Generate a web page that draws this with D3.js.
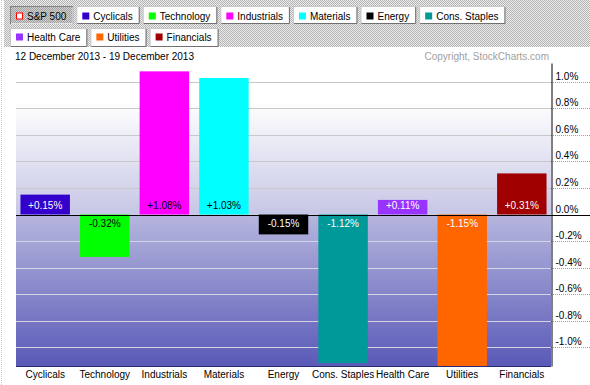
<!DOCTYPE html>
<html><head><meta charset="utf-8">
<script src="https://cdn.jsdelivr.net/npm/d3@7"></script>
<style>html,body{margin:0;padding:0;background:#fff;overflow:hidden}
text{font-family:"Liberation Sans",Arial,sans-serif;font-size:10px}</style>
</head><body><svg id="c" width="590" height="385"></svg>
<script>
// ---- data ----
const categories = ["Cyclicals","Technology","Industrials","Materials","Energy","Cons. Staples","Health Care","Utilities","Financials"];
const values = [0.15,-0.32,1.08,1.03,-0.15,-1.12,0.11,-1.15,0.31];
const valueLabels = ["+0.15%","-0.32%","+1.08%","+1.03%","-0.15%","-1.12%","+0.11%","-1.15%","+0.31%"];
const yTicks = [-1.0,-0.8,-0.6,-0.4,-0.2,0.0,0.2,0.4,0.6,0.8,1.0];
const yTickLabels = ["-1.0%","-0.8%","-0.6%","-0.4%","-0.2%","0.0%","0.2%","0.4%","0.6%","0.8%","1.0%"];
const legendRow1 = ["S&P 500","Cyclicals","Technology","Industrials","Materials","Energy","Cons. Staples"];
const legendRow2 = ["Health Care","Utilities","Financials"];
const dateText = "12 December 2013 - 19 December 2013";
const copyrightText = "Copyright, StockCharts.com";
// ---- styles ----
const seriesColors = ["#3300cc","#00ff00","#ff00ff","#00ffff","#000000","#009999","#9933ff","#ff6600","#a00000"];
const labelInk = ["#fff","#000","#000","#000","#fff","#fff","#fff","#fff","#fff"];
const benchmarkColor = "#ff0000";

const svg = d3.select("#c");
const defs = svg.append("defs");
function dither(id,a,b){
  const p = defs.append("pattern").attr("id",id).attr("width",2).attr("height",2).attr("patternUnits","userSpaceOnUse");
  p.append("rect").attr("width",2).attr("height",2).attr("fill",a);
  p.append("rect").attr("width",1).attr("height",1).attr("fill",b);
  p.append("rect").attr("x",1).attr("y",1).attr("width",1).attr("height",1).attr("fill",b);
}
dither("hdr","#ececec","#b4b4b4");
dither("sel","#d0d0d0","#a0a0a0");

const L=16, R=551, T=63, B=366;
const y = d3.scaleLinear().domain([-1.143,1.143]).range([B,T]);
const x = d3.scaleBand().domain(categories).range([L,R]).paddingInner(0.17).paddingOuter(0.075);

// backgrounds
const gUp = defs.append("linearGradient").attr("id","gup").attr("x1",0).attr("x2",0).attr("y1",0).attr("y2",1);
gUp.append("stop").attr("offset","0%").attr("stop-color","#ffffff");
gUp.append("stop").attr("offset","25%").attr("stop-color","#ffffff");
gUp.append("stop").attr("offset","100%").attr("stop-color","#c6c6e6");
const gDn = defs.append("linearGradient").attr("id","gdn").attr("x1",0).attr("x2",0).attr("y1",0).attr("y2",1);
gDn.append("stop").attr("offset","0%").attr("stop-color","#b6b6de");
gDn.append("stop").attr("offset","100%").attr("stop-color","#5a5ab8");

svg.append("rect").attr("x",L).attr("y",T).attr("width",R-L).attr("height",y(0)-T).attr("fill","url(#gup)");
svg.append("rect").attr("x",L).attr("y",y(0)).attr("width",R-L).attr("height",B-y(0)).attr("fill","url(#gdn)");

// left dotted edge
svg.append("line").attr("x1",1.5).attr("x2",1.5).attr("y1",0).attr("y2",385)
  .attr("stroke","#c4cad8").attr("stroke-dasharray","1,1");

// header
svg.append("rect").attr("x",4).attr("y",0).attr("width",586).attr("height",47).attr("fill","url(#hdr)");

function legendRow(names, x0, top, h, base){
  let cx = x0;
  names.forEach((n,i)=>{
    const g = svg.append("g");
    const isBench = n === "S&P 500";
    const t = g.append("text").attr("x",cx+17).attr("y",base).attr("fill","#000").text(n);
    const w = t.node().getComputedTextLength() + 24;
    g.insert("rect","text").attr("x",cx+0.5).attr("y",top+0.5).attr("width",w-1).attr("height",h-1)
      .attr("fill", isBench ? "url(#sel)" : "#fff").attr("stroke", isBench ? "#808080" : "#c8c8c8");
    g.insert("path","text").attr("d",`M${cx+w-0.5},${top+1}V${top+h-0.5}H${cx+1}`).attr("fill","none")
      .attr("stroke", isBench ? "#e0e0e0" : "#707070");
    const ci = categories.indexOf(n);
    if (isBench) {
      g.append("rect").attr("x",cx+6.5).attr("y",base-6.5).attr("width",6).attr("height",6)
        .attr("fill","#fff").attr("stroke",benchmarkColor);
    } else {
      g.append("rect").attr("x",cx+6).attr("y",base-7).attr("width",7).attr("height",7).attr("fill",seriesColors[ci]);
    }
    cx += w + 3;
  });
}
legendRow(legendRow1, 10, 6, 18, 19.5);
legendRow(legendRow2, 10, 28, 19, 40.5);

svg.append("text").attr("x",15).attr("y",59.5).attr("fill","#000").text(dateText);
svg.append("text").attr("x",549).attr("y",59.5).attr("text-anchor","end").attr("fill","#a0a0a0").text(copyrightText);

// gridlines
const grid = svg.append("g");
yTicks.filter(d=>d!==0).forEach(d=>{
  grid.append("line").attr("x1",L).attr("x2",R).attr("y1",Math.round(y(d))+0.5).attr("y2",Math.round(y(d))+0.5)
    .attr("stroke", d>0 ? "#c8c8c8" : "#d4d4e4").attr("stroke-width",1);
  grid.append("line").attr("x1",R).attr("x2",590).attr("y1",Math.round(y(d))+0.5).attr("y2",Math.round(y(d))+0.5)
    .attr("stroke","#a0a0a0").attr("stroke-dasharray","1,1");
});

// bars
svg.append("g").selectAll("rect").data(values).join("rect")
  .attr("x",(d,i)=>x(categories[i]))
  .attr("width",x.bandwidth())
  .attr("y",d=>d>=0?y(d):y(0))
  .attr("height",d=>Math.abs(y(d)-y(0)))
  .attr("fill",(d,i)=>seriesColors[i]);

// zero line
svg.append("line").attr("x1",L).attr("x2",590).attr("y1",Math.round(y(0))+0.5).attr("y2",Math.round(y(0))+0.5)
  .attr("stroke","#000");

// bar labels
svg.append("g").selectAll("text").data(values).join("text")
  .attr("x",(d,i)=>x(categories[i])+x.bandwidth()/2)
  .attr("y",d=>d>=0?y(0)-6:y(0)+12.5)
  .attr("text-anchor","middle")
  .attr("fill",(d,i)=>labelInk[i])
  .text((d,i)=>valueLabels[i]);

// bottom border
svg.append("line").attr("x1",L).attr("x2",R).attr("y1",B+0.5).attr("y2",B+0.5).attr("stroke","#2a2a70");

// y axis (right)
const ya = svg.append("g").attr("transform",`translate(${R+0.5},0)`)
  .call(d3.axisRight(y).tickValues(yTicks).tickFormat((d,i)=>yTickLabels[i]).tickSize(0).tickPadding(4).tickSizeOuter(0));
ya.select(".domain").attr("stroke","#000");
ya.selectAll("text").attr("dy",null).attr("y",-2.5).attr("fill","#000")
  .style("font-family",'"Liberation Sans",Arial,sans-serif').style("font-size","10px");

// x axis
const xa = svg.append("g").attr("transform",`translate(0,${B})`)
  .call(d3.axisBottom(x).tickSize(0).tickPadding(0));
xa.select(".domain").remove();
xa.selectAll("text").attr("dy",null).attr("y",12).attr("fill","#000")
  .style("font-family",'"Liberation Sans",Arial,sans-serif').style("font-size","10px");
</script></body></html>
